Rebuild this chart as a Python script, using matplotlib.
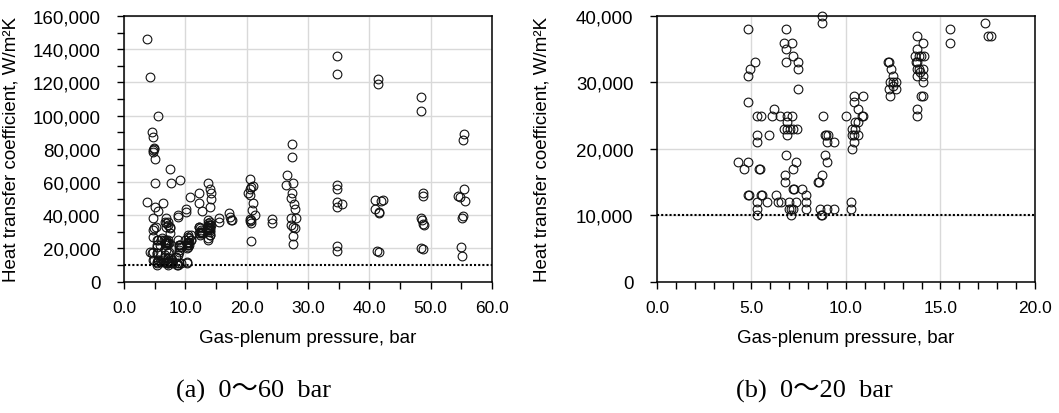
import matplotlib.pyplot as plt
import numpy as np
from matplotlib.ticker import MultipleLocator, StrMethodFormatter

# points below 20 bar and 40,000 W/m2K
p_low = [4.3, 4.6, 4.8, 4.8, 4.8, 4.9, 5.2, 4.8, 4.8, 4.85,
         5.3, 5.5, 5.3, 5.3, 5.45, 5.4, 5.3, 5.3, 5.3, 5.5, 5.55,
         5.8, 5.9, 6.1, 6.2, 6.3, 6.4, 6.55, 6.5, 6.7, 6.75, 6.75,
         6.8, 6.7, 6.8, 6.8, 6.85, 6.9, 6.9, 6.9, 6.9, 7.05, 7.15,
         7.15, 7.2, 7.2, 7.4, 7.45, 7.45, 7.45, 7.35, 7.2, 7.2, 7.25,
         7.0, 7.1, 7.2, 7.1, 7.35, 7.0, 7.65, 7.9, 7.9, 7.9,
         8.5, 8.55, 8.75, 8.65, 8.75, 8.7, 8.75, 8.75, 8.8, 8.9, 9.0,
         8.9, 8.95, 9.05, 9.0, 9.0, 9.35, 9.35,
         10.0, 10.25, 10.25, 10.3, 10.3, 10.3, 10.4, 10.4, 10.45, 10.4,
         10.5, 10.5, 10.65, 10.65, 10.65, 10.85, 10.9, 10.9,
         12.2, 12.25, 12.4, 12.5, 12.35, 12.65, 12.3, 12.65, 12.35, 12.5, 12.5,
         13.75, 13.75, 13.65, 13.75, 13.7, 13.75, 13.75, 13.85, 13.95, 14.15, 14.1,
         14.05, 14.05, 14.05, 13.95, 14.05, 13.75, 13.75, 13.85, 13.9,
         15.5, 15.5, 17.35, 17.5, 17.65]
h_low = [18000, 17000, 38000, 27000, 31000, 32000, 33000, 18000, 13000, 13000,
         25000, 25000, 22000, 21000, 17000, 17000, 12000, 11000, 10000, 13000, 13000,
         12000, 22000, 25000, 26000, 13000, 12000, 12000, 25000, 23000, 16000, 15000,
         38000, 36000, 35000, 33000, 19000, 25000, 24000, 22000, 23000, 23000, 25000,
         36000, 23000, 34000, 23000, 33000, 32000, 29000, 18000, 17000, 14000, 14000,
         12000, 11000, 11000, 10000, 12000, 11000, 14000, 13000, 12000, 11000,
         15000, 15000, 16000, 11000, 10000, 10000, 40000, 39000, 25000, 19000, 18000,
         22000, 22000, 22000, 21000, 11000, 11000, 21000,
         25000, 12000, 11000, 20000, 22000, 23000, 21000, 22000, 28000, 27000,
         23000, 24000, 26000, 22000, 24000, 25000, 25000, 28000,
         33000, 33000, 32000, 31000, 30000, 30000, 29000, 29000, 28000, 29500, 30000,
         37000, 35000, 34000, 33000, 33000, 32000, 31000, 34000, 34000, 34000, 36000,
         32000, 31000, 30000, 28000, 28000, 26000, 25000, 32000, 31500,
         38000, 36000, 39000, 37000, 37000]

# remaining points
p_high = [3.8, 4.2, 3.8, 5.5, 4.55, 4.7, 4.85, 4.7, 4.95, 4.75, 5.0, 5.0, 5.1, 5.5,
          6.3, 7.5, 7.65, 9.2, 10.1, 10.1, 10.8, 12.2, 12.3, 12.7, 13.65, 14.1,
          14.2, 14.2, 14.05, 17.1,
          20.5, 20.7, 20.5, 21.1, 20.2, 20.6, 21.0, 20.9, 21.3, 20.5, 20.7, 20.5,
          20.7, 20.7, 24.2, 24.1,
          26.5, 26.4, 27.4, 27.4, 27.5, 27.4, 27.3, 27.7, 27.8, 27.2, 28.0, 27.3,
          27.9, 27.5, 27.6, 27.6,
          34.7, 34.7, 34.7, 34.7, 34.8, 34.8, 35.6, 34.8, 34.7,
          41.4, 41.4, 41.0, 40.9, 41.6, 41.5, 41.9, 42.3, 41.2, 41.5,
          48.4, 48.4, 48.7, 48.7, 48.4, 48.6, 48.7, 48.9, 48.5, 48.7,
          54.5, 54.8, 55.4, 55.2, 55.4, 55.6, 55.3, 55.1, 54.9, 55.1]
h_high = [146000, 123000, 48000, 100000, 90000, 87000, 80000, 79000, 80500, 78000,
          74000, 59500, 45000, 42500, 47500, 68000, 59500, 61000, 44000, 42000,
          51000, 53500, 47500, 42500, 59500, 55500, 53500, 50000, 45000, 41000,
          62000, 57000, 56000, 57500, 53500, 52000, 47500, 43000, 40000, 37500,
          37000, 36500, 35000, 24500, 37500, 35500,
          64000, 58000, 83000, 75000, 59500, 53500, 50500, 47000, 44000, 38000,
          38000, 34000, 32500, 33000, 27500, 22500,
          136000, 125000, 58000, 55500, 48000, 45000, 46500, 21500, 18500,
          122000, 119000, 49000, 43500, 42000, 41000, 48500, 49000, 18500, 17500,
          111000, 103000, 53500, 51500, 38000, 37000, 34500, 34000, 20000, 19500,
          51500, 51000, 89000, 85000, 56000, 48500, 39500, 38000, 20500, 15500]

limit_h = 10000
ylabel = 'Heat transfer coefficient, W/m\u00b2K'
xlabel = 'Gas-plenum pressure, bar'
captions = ['(a)  0\uff5e60  bar', '(b)  0\uff5e20  bar']

p = np.array(p_low + p_high)
h = np.array(h_low + h_high)

plt.rcParams['font.family'] = ['Liberation Sans', 'DejaVu Sans']

fig = plt.figure(figsize=(10.59, 4.14), dpi=100)
ax1 = fig.add_axes([0.1171, 0.3176, 0.3475, 0.6413])
ax2 = fig.add_axes([0.6204, 0.3176, 0.3569, 0.6413])

# panel a
ax1.plot(p, h, 'o', mfc='none', mec='#111111', ms=6.3, mew=0.8)
ax1.set_xlim(0, 60)
ax1.set_ylim(0, 160000)
ax1.xaxis.set_major_locator(MultipleLocator(10))
ax1.xaxis.set_minor_locator(MultipleLocator(5))
ax1.yaxis.set_major_locator(MultipleLocator(20000))
ax1.yaxis.set_minor_locator(MultipleLocator(10000))

# panel b
m = (p <= 20) & (h <= 40000)
ax2.plot(p[m], h[m], 'o', mfc='none', mec='#111111', ms=6.3, mew=0.8, clip_on=False)
ax2.set_xlim(0, 20)
ax2.set_ylim(0, 40000)
ax2.xaxis.set_major_locator(MultipleLocator(5))
ax2.xaxis.set_minor_locator(MultipleLocator(1))
ax2.yaxis.set_major_locator(MultipleLocator(10000))

for ax, cap, cx in [(ax1, captions[0], 253 / 1059), (ax2, captions[1], 814 / 1059)]:
    ax.axhline(limit_h, color='black', ls=(0, (1, 1)), lw=1.5)
    ax.grid(True, which='major', color='#d9d9d9', lw=1)
    ax.set_axisbelow(True)
    for s in ax.spines.values():
        s.set_linewidth(1.1)
    ax.tick_params(which='both', direction='out', length=5, width=1)
    ax.tick_params(axis='y', labelsize=13.5, pad=12)
    ax.tick_params(axis='x', labelsize=12.5, pad=8)
    ax.xaxis.set_major_formatter(StrMethodFormatter('{x:.1f}'))
    ax.yaxis.set_major_formatter(StrMethodFormatter('{x:,.0f}'))
    ax.set_xlabel(xlabel, fontsize=13.5)
    ax.set_ylabel(ylabel, fontsize=13.5)
    ax.xaxis.set_label_coords(0.5, -0.18)
    ax.yaxis.set_label_coords(-0.283, 0.5)
    fig.text(cx, 0.055, cap, ha='center', va='center', fontsize=19,
             family=['Liberation Serif', 'Noto Sans CJK JP', 'DejaVu Serif'])

fig.savefig('out.png', dpi=100)
